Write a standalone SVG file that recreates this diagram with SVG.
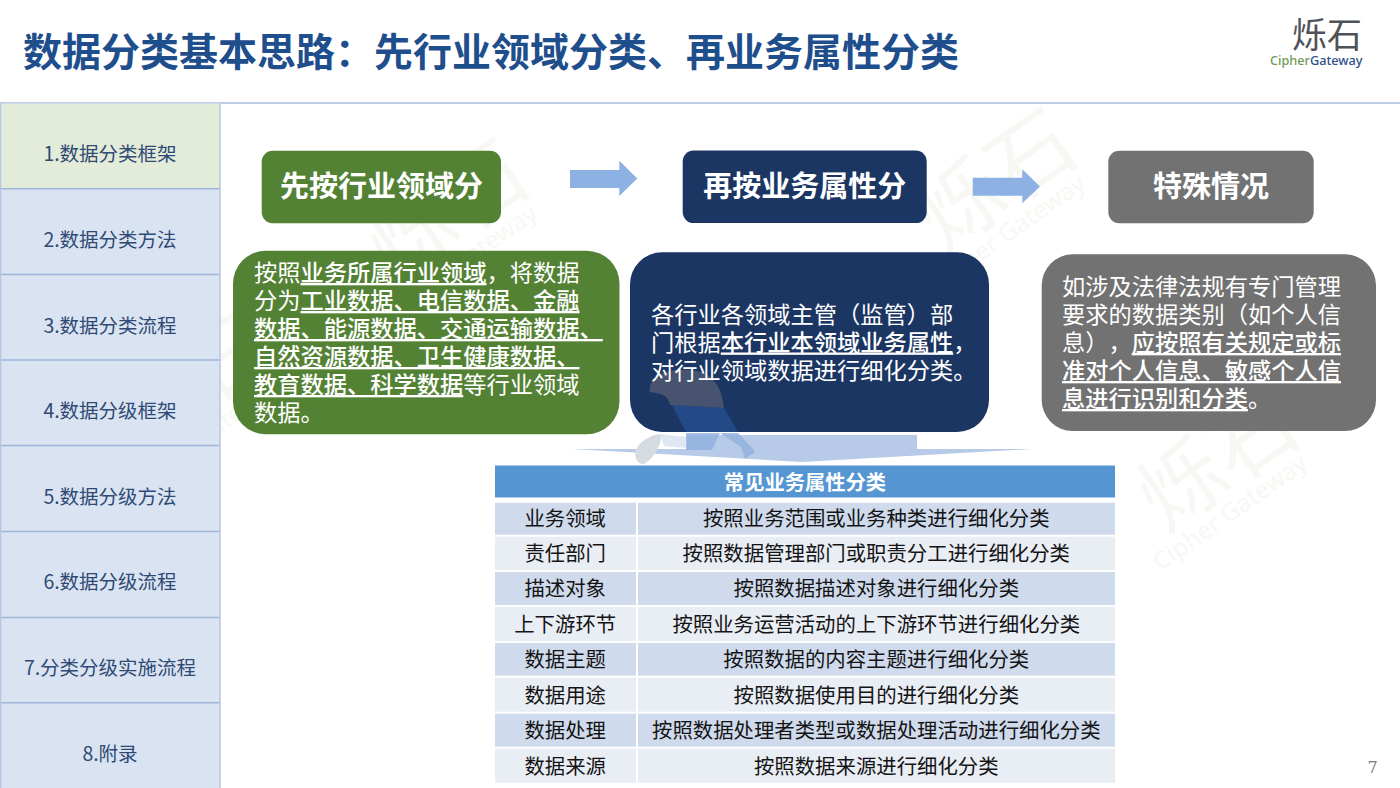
<svg xmlns="http://www.w3.org/2000/svg" xmlns:xlink="http://www.w3.org/1999/xlink" width="1400" height="788" viewBox="0 0 1400 788">
<style>
text{font-family:"Noto Sans CJK SC","Noto Sans",sans-serif;text-spacing-trim:space-all}
.side{font-size:19.5px;fill:#2f4a75;text-anchor:middle}
.head{font-size:29px;font-weight:700;fill:#fff;text-anchor:middle}
.body{font-size:23.25px;fill:#fff}
.u{text-decoration:underline;font-weight:500}
.c{font-size:20.4px;fill:#141414;text-anchor:middle}
.s{fill:#d9e3f1}
.div{stroke:#9fb5da;stroke-width:1.5}
.r1{fill:#cfdaec}.r2{fill:#e9edf4}
.wm1{font-size:85px;fill:#f7f8f3;text-anchor:middle}
.wm2{font-size:24.5px;fill:#f7f8f3;text-anchor:middle;font-family:"Noto Sans",sans-serif}
.arr{fill:#8db1e2}
</style>
<defs>
<g id="wm"><text class="wm1" x="0" y="0">烁石</text><text class="wm2" x="-20" y="28">Cipher Gateway</text></g>
</defs>
<rect width="1400" height="788" fill="#fff"/>
<g id="watermarks">
<use xlink:href="#wm" href="#wm" transform="translate(1235,485) rotate(-35)"/>
<use xlink:href="#wm" href="#wm" transform="translate(1013,205) rotate(-35)"/>
<use xlink:href="#wm" href="#wm" transform="translate(465,235) rotate(-35)"/>
<use xlink:href="#wm" href="#wm" transform="translate(208,408) rotate(-35)"/>
</g>
<g id="title"><text x="23" y="66" font-size="39" font-weight="700" fill="#1f4e8c">数据分类基本思路：先行业领域分类、再业务属性分类</text></g>
<g id="logo">
<text x="1292" y="48" font-size="35" fill="#4f5259">烁石</text>
<text x="1270" y="65" font-size="12.7" font-weight="500" style="font-family:'Noto Sans',sans-serif" fill="#6f9a57">Cipher<tspan fill="#2d4f8a">Gateway</tspan></text>
</g>
<line x1="0" y1="103" x2="1400" y2="103" stroke="#a9bde0" stroke-width="1.5"/>
<g id="sidebar">
<g id="nav1"><rect x="0" y="103.5" width="220" height="85.5" fill="#e3ebd9"/><text class="side" x="110" y="161">1.数据分类框架</text></g>
<g id="nav2"><rect class="s" x="0" y="189" width="220" height="85.5"/><text class="side" x="110" y="247">2.数据分类方法</text></g>
<g id="nav3"><rect class="s" x="0" y="274.5" width="220" height="85.5"/><text class="side" x="110" y="333">3.数据分类流程</text></g>
<g id="nav4"><rect class="s" x="0" y="360" width="220" height="85.5"/><text class="side" x="110" y="418">4.数据分级框架</text></g>
<g id="nav5"><rect class="s" x="0" y="445.5" width="220" height="86"/><text class="side" x="110" y="504">5.数据分级方法</text></g>
<g id="nav6"><rect class="s" x="0" y="531.5" width="220" height="86"/><text class="side" x="110" y="589">6.数据分级流程</text></g>
<g id="nav7"><rect class="s" x="0" y="617.5" width="220" height="85.5"/><text class="side" x="110" y="675">7.分类分级实施流程</text></g>
<g id="nav8"><rect class="s" x="0" y="703" width="220" height="85"/><text class="side" x="110" y="761">8.附录</text></g>
<path class="div" d="M0 188.7H220M0 274.4H220M0 360.1H220M0 445.5H220M0 531.6H220M0 617.6H220M0 702.8H220" fill="none"/>
<path d="M220 103V788M0.5 103V788" stroke="#b4c7e7" stroke-width="1.5" fill="none"/>
</g>
<g id="connectors">
<polygon class="arr" points="570,170 619.3,170 619.3,160.7 637.3,178.5 619.3,196 619.3,188 570,188"/>
<polygon class="arr" points="972.7,177.7 1022.3,177.7 1022.3,169.3 1040,186.5 1022.3,203.3 1022.3,195.7 972.7,195.7"/>
<polygon fill="#b7cae8" points="572,449 687,449 687,435 917,435 917,449 1032,449 802,462"/>
</g>
<g id="n1-head"><rect x="261.7" y="150.7" width="239.3" height="72.6" rx="11" fill="#548235"/><text class="head" x="381.5" y="196.5">先按行业领域分</text></g>
<g id="n2-head"><rect x="682.7" y="150.5" width="244" height="72.6" rx="11" fill="#1c3664"/><text class="head" x="804.7" y="196.5">再按业务属性分</text></g>
<g id="n3-head"><rect x="1108.3" y="150.7" width="205.4" height="72.6" rx="11" fill="#727272"/><text class="head" x="1211" y="196.5">特殊情况</text></g>
<g id="n1-body"><rect x="233" y="250.7" width="386.5" height="183.6" rx="33" fill="#548235"/>
<text class="body" x="254" y="281">按照<tspan class="u">业务所属行业领域</tspan>，将数据</text>
<text class="body" x="254" y="309">分为<tspan class="u">工业数据、电信数据、金融</tspan></text>
<text class="body" x="254" y="337"><tspan class="u">数据、能源数据、交通运输数据、</tspan></text>
<text class="body" x="254" y="365"><tspan class="u">自然资源数据、卫生健康数据、</tspan></text>
<text class="body" x="254" y="393"><tspan class="u">教育数据、科学数据</tspan>等行业领域</text>
<text class="body" x="254" y="421">数据。</text>
</g>
<g id="n2-body"><rect x="630" y="252.3" width="359" height="179.7" rx="32" fill="#1c3664"/>
<g id="runner">
<path d="M650 392 C648 378 662 368 690 370 C712 372 722 386 724 408 L670 405 C668 396 664 394 650 392Z" fill="#4d5670" opacity=".9"/>
<path d="M672 405 L724 408 L738 432 L686 432 Z" fill="#26508f" opacity=".8"/>
</g>
<text class="body" x="651" y="322.5">各行业各领域主管（监管）部</text>
<text class="body" x="651" y="350.5">门根据<tspan class="u">本行业本领域业务属性</tspan>，</text>
<text class="body" x="651" y="378.5">对行业领域数据进行细化分类。</text>
</g>
<g id="runner-legs">
<path d="M686 433 L738 433 L752 448 L755 452 L745 459 L741 447 L720 433 L712 450 L686 450 Z" fill="#8fb0dc" opacity=".8"/>
<path d="M636 458 C632 448 645 436 660 434 C664 440 655 458 644 464 C640 464 637 462 636 458Z" fill="#d5dbe0"/>
<path d="M660 434 L686 437 L686 448 L664 446Z" fill="#dfe8f2"/>
</g>
<g id="n3-body"><rect x="1041.7" y="254.3" width="334.3" height="176.7" rx="31" fill="#727272"/>
<text class="body" x="1062" y="295">如涉及法律法规有专门管理</text>
<text class="body" x="1062" y="323">要求的数据类别（如个人信</text>
<text class="body" x="1062" y="351">息），<tspan class="u">应按照有关规定或标</tspan></text>
<text class="body" x="1062" y="379"><tspan class="u">准对个人信息、敏感个人信</tspan></text>
<text class="body" x="1062" y="407"><tspan class="u">息进行识别和分类</tspan>。</text>
</g>
<g id="table">
<rect x="495" y="465.5" width="620" height="32" fill="#5596d2"/>
<text x="805" y="489.5" font-size="20.3" font-weight="700" fill="#fff" text-anchor="middle">常见业务属性分类</text>
<g class="r1"><rect x="495" y="502.7" width="141" height="32"/><rect x="638" y="502.7" width="477" height="32"/></g>
<g class="r2"><rect x="495" y="536.7" width="141" height="33.3"/><rect x="638" y="536.7" width="477" height="33.3"/></g>
<g class="r1"><rect x="495" y="572" width="141" height="33"/><rect x="638" y="572" width="477" height="33"/></g>
<g class="r2"><rect x="495" y="607" width="141" height="34"/><rect x="638" y="607" width="477" height="34"/></g>
<g class="r1"><rect x="495" y="643" width="141" height="32.7"/><rect x="638" y="643" width="477" height="32.7"/></g>
<g class="r2"><rect x="495" y="677.7" width="141" height="34"/><rect x="638" y="677.7" width="477" height="34"/></g>
<g class="r1"><rect x="495" y="713.7" width="141" height="33"/><rect x="638" y="713.7" width="477" height="33"/></g>
<g class="r2"><rect x="495" y="748.5" width="141" height="34.2"/><rect x="638" y="748.5" width="477" height="34.2"/></g>
<text class="c" x="565.2" y="525.5">业务领域</text><text class="c" x="876.3" y="525.5">按照业务范围或业务种类进行细化分类</text>
<text class="c" x="565.2" y="560.5">责任部门</text><text class="c" x="876.3" y="560.5">按照数据管理部门或职责分工进行细化分类</text>
<text class="c" x="565.2" y="596">描述对象</text><text class="c" x="876.3" y="596">按照数据描述对象进行细化分类</text>
<text class="c" x="565.2" y="631.5">上下游环节</text><text class="c" x="876.3" y="631.5">按照业务运营活动的上下游环节进行细化分类</text>
<text class="c" x="565.2" y="667">数据主题</text><text class="c" x="876.3" y="667">按照数据的内容主题进行细化分类</text>
<text class="c" x="565.2" y="702.5">数据用途</text><text class="c" x="876.3" y="702.5">按照数据使用目的进行细化分类</text>
<text class="c" x="565.2" y="738">数据处理</text><text class="c" x="876.3" y="738">按照数据处理者类型或数据处理活动进行细化分类</text>
<text class="c" x="565.2" y="774">数据来源</text><text class="c" x="876.3" y="774">按照数据来源进行细化分类</text>
</g>
<text x="1367.5" y="773" font-size="16" fill="#7a7a7a" style="font-family:'DejaVu Serif',serif">7</text>
</svg>
